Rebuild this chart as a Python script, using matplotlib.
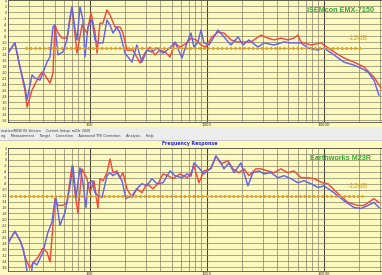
import matplotlib
matplotlib.use('Agg')
import matplotlib.pyplot as plt
from matplotlib.patches import Rectangle

# ---------------- data ----------------
top_blue_f = [20, 22.9, 25.3, 27.9, 29.1, 32.1, 34.0, 37.5, 39.8, 43.1, 45.7, 48.5, 50.4, 53.5, 59.0,
              63.9, 67.8, 70.5, 74.8, 77.8, 82.5, 87.5, 91.0, 96.5, 104.5, 110.8, 117.5, 129.7, 140.3,
              148.9, 157.9, 170.9, 181.3, 200, 229.6, 253, 279, 308, 340, 376, 423, 485, 535, 614, 678,
              733, 778, 841, 893, 946, 1045, 1153, 1247, 1403, 1611, 1850, 2042, 2296, 2742, 3085, 3756,
              4571, 5250, 6386, 7329, 8930, 10040, 12220, 14890, 18120, 20800, 23880, 26870, 29650]
top_blue_db = [-13.7, -10.3, -18.3, -25, -29.3, -21, -22, -22.7, -20.3, -16.7, -15, -5, -4.3, -14.3, -13.3,
               -9.3, -1.7, 1.7, -6, -9.3, 1.7, -2.7, -15, -5, -2.7, -9.3, -10.3, -10.3, -2.7,
               -4.3, -7, -5, -7, -13.7, -16.7, -11, -16.7, -12.7, -13.3, -12, -13.7, -12, -10, -15.3, -10.3,
               -7, -11.7, -10, -6, -10.3, -11, -8.3, -6, -8.3, -11, -8.3, -11, -9.3, -11.7, -10.3, -11,
               -10, -10.3, -10.3, -12, -12.7, -12, -14.3, -16.7, -17.7, -18.7, -20, -22.7, -27.7]

top_red_f = [20, 22.9, 25.3, 27.9, 29.1, 32.1, 35.4, 39.0, 41.4, 45.7, 48.5, 50.4, 53.5, 57.9, 63.9,
             70.5, 77.8, 85.8, 94.6, 102.4, 110.8, 115.3, 122.2, 129.7, 140.3, 148.9, 164.4, 181.3, 192.2,
             208, 234, 269, 296, 327, 361, 398, 440, 485, 535, 590, 678, 733, 809, 893, 985, 1087, 1247,
             1403, 1611, 1850, 2081, 2388, 2906, 3338, 3756, 4309, 4945, 5565, 6022, 6386, 7780, 9470,
             10040, 12220, 14890, 18120, 22080, 26870, 30830]
top_red_db = [-13.7, -10.3, -18.3, -26, -31.7, -26, -22.7, -20, -21, -23.7, -20.3, -4.3, -7, -8.7, -8.7,
              1.7, -13.7, -4.3, -7, -0.3, -6.7, -13.7, -3.7, -3.7, 0.7, -1, -5, -5, -7,
              -12.7, -12.7, -17, -13.7, -11.7, -14.3, -12.7, -13.3, -15, -10.3, -11.7, -10.3, -8.7, -9.3,
              -11, -11.7, -8.7, -6.7, -7, -9.3, -10, -10, -10, -7.7, -8.7, -9.3, -8.7, -9.3, -8.7, -7.7,
              -10, -11, -10.3, -11, -13.3, -15.3, -16.7, -18.3, -21.7, -25.3]

bot_blue_f = [20, 22.9, 25.3, 26.8, 27.9, 29.1, 31.7, 32.7, 35.4, 39.8, 43.9, 47.5, 49.4, 51.4, 55.6,
              61.4, 67.8, 71.9, 76.2, 82.5, 87.5, 92.8, 96.5, 104.5, 110.8, 117.5, 127.1, 140.3, 148.9,
              157.9, 170.9, 188.5, 204, 229.6, 253, 279, 308, 340, 376, 423, 485, 535, 614, 678, 733,
              778, 857, 946, 1087, 1199, 1324, 1403, 1548, 1710, 1960, 2250, 2483, 2796, 3085, 3540,
              4064, 4571, 5250, 6022, 6777, 7780, 8930, 10040, 12220, 14890, 18120, 20800, 23880,
              26870, 29650]
bot_blue_db = [-28, -24, -27, -29.7, -32.7, -37.5, -38, -34.3, -35.3, -31, -24.3, -21, -16, -12.7, -22,
               -17.7, -8.7, -2, -12.7, -2.7, -7.7, -16, -8, -7, -11, -12, -12.7, -5.3, -4.3,
               -5.3, -4.3, -7, -13, -12, -9.7, -8, -8.7, -6.3, -8, -7.7, -3.7, -5.3, -6, -4.7, -5.5,
               -1, -2.7, -4.7, -2.7, 1.3, -1, -3, -1, -4.3, -1, -8.7, -4.3, -3.7, -4.7, -4.3,
               -6, -5.3, -6.3, -7.7, -7, -8, -9.3, -8.7, -11, -13.7, -16, -16.3, -15.3,
               -14.3, -16]

bot_red_f = [20, 22.9, 25.3, 26.8, 27.9, 30.8, 32.7, 36.1, 39.8, 43.1, 45.7, 48.5, 50.4, 53.5, 59.0,
             63.9, 70.5, 74.8, 79.3, 85.8, 94.6, 100.4, 108.6, 117.5, 122.2, 129.7, 140.3, 148.9, 157.9,
             170.9, 181.3, 192.2, 208, 229.6, 253, 279, 308, 347, 383, 423, 467, 514, 590, 678, 733,
             778, 857, 946, 1087, 1199, 1324, 1518, 1675, 1885, 2081, 2296, 2636, 2906, 3338, 3756,
             4309, 4945, 5565, 6386, 7329, 8245, 9845, 10870, 13240, 16100, 19600, 22080, 26870, 29650]
bot_red_db = [-28, -24, -27, -29.7, -32.7, -36.3, -34.7, -32.7, -29.7, -31, -34.3, -22, -13, -15.3, -15.3,
              -14.3, -2, -11, -18, -3, -6.3, -11, -7, -16.3, -6.3, -7, -4.3, 0.3, -4.3,
              -3.7, -6, -4.3, -9.7, -12.7, -9.7, -11, -8, -9.7, -8, -4.7, -5.3, -6.3, -4.7, -6, -4.5,
              -2, -7.7, -3.7, -3, 1.3, -1.3, -0.3, -3, -4.3, -3, -5.3, -3, -3, -3.7, -4.3,
              -3, -4.3, -3.7, -6, -6, -6.3, -7.7, -8, -11.3, -14.3, -15.3, -15.3, -13, -14.3]

ref_level = -12
x_ticks = [100, 1000, 10000]
x_tick_labels = ['100', '1000', '10000']
y_ticks = list(range(-36, 5, 2))
titles = ['iSEMcon EMX-7150', 'Earthworks M23R']
ref_label = '-12dB'

# ---------------- layout ----------------
W, H = 382, 275
fig = plt.figure(figsize=(W / 100, H / 100), dpi=100)
BG = '#fdfabf'
fig.patch.set_facecolor(BG)


def fy(py):
    return 1 - py / H


GRID = '#85826a'
DEC = '#45453a'
BLUE = '#6464e8'
RED = '#f24c38'
ORANGE = '#f7a000'
GREEN = '#2ead2e'


def setup(ax, ylim):
    ax.set_xscale('log')
    ax.set_xlim(20, 31500)
    ax.set_ylim(*ylim)
    ax.set_facecolor(BG)
    for dec in [10, 100, 1000, 10000]:
        for m in range(1, 10):
            f = dec * m
            if 20 <= f <= 31500:
                ax.axvline(f, color=DEC if m == 1 else GRID, lw=0.75 if m == 1 else 0.5, zorder=1)
    for v in y_ticks:
        ax.axhline(v, color=GRID, lw=0.5, zorder=1)
    ax.set_xticks(x_ticks)
    ax.set_xticklabels(x_tick_labels, fontsize=2.8, color='#333333')
    ax.set_xticks([], minor=True)
    ax.set_yticks(y_ticks)
    ax.set_yticklabels([str(v) for v in y_ticks], fontsize=2.4, color='#333333')
    ax.tick_params(length=0, pad=0.8)
    for s in ax.spines.values():
        s.set_color('#555544')
        s.set_linewidth(0.6)


def draw(ax, bf, bd, rf, rd, ref_start, title, title_y, ref_y):
    ax.plot(rf, rd, color=RED, lw=1.05, zorder=3)
    ax.plot(bf, bd, color=BLUE, lw=1.05, zorder=4)
    ax.plot([ref_start, 21500], [ref_level, ref_level], color=ORANGE, lw=2.0,
            linestyle=(0, (0.8, 0.8)), zorder=5)
    ax.text(0.888, title_y, title, transform=ax.transAxes, ha='center', va='center',
            fontsize=5.2, fontweight='bold', color=GREEN, family='Liberation Sans', zorder=6)
    ax.text(0.935, ref_y, ref_label, transform=ax.transAxes, ha='center', va='center',
            fontsize=5.4, color=ORANGE, family='Liberation Sans', zorder=6)


ax1 = fig.add_axes([8 / W, fy(122), 374 / W, 122 / H])
setup(ax1, (-12 - 74 / 3, 4.0))
draw(ax1, top_blue_f, top_blue_db, top_red_f, top_red_db, 28, titles[0],
     1 - 11 / 122, 1 - 39 / 122)

ax2 = fig.add_axes([8 / W, fy(270.7), 374 / W, (270.7 - 148) / H])
setup(ax2, (-12 - 75.7 / 3, -12 + 47 / 3))
draw(ax2, bot_blue_f, bot_blue_db, bot_red_f, bot_red_db, 21, titles[1],
     1 - 10 / 122.7, 1 - 39 / 122.7)

# window chrome between the two panels
fig.add_artist(Rectangle((0, fy(141)), 1, 14 / H, transform=fig.transFigure,
                         facecolor='#ececec', edgecolor='none', zorder=0))
fig.add_artist(Rectangle((0, fy(141)), 1, 0.6 / H, transform=fig.transFigure,
                         facecolor='#c8c8c8', edgecolor='none', zorder=0))
fig.text(1 / W, fy(130.5), 'mation/REW V5 Version', fontsize=2.4, color='#333333',
         va='center', ha='left')
fig.text(46 / W, fy(130.5), 'Current Setup: m23r 2020', fontsize=2.4, color='#333333',
         va='center', ha='left')
fig.text(1 / W, fy(136.5),
         'ng     Measurement     Target     Correction     Advanced TFE Correction     Analysis     Help',
         fontsize=2.4, color='#333333', va='center', ha='left')
fig.text(190 / W, fy(144), 'Frequency Response', fontsize=3.4, color='#2a2ad0',
         va='center', ha='center', fontweight='bold')

fig.savefig('out.png', dpi=100, facecolor=BG)
